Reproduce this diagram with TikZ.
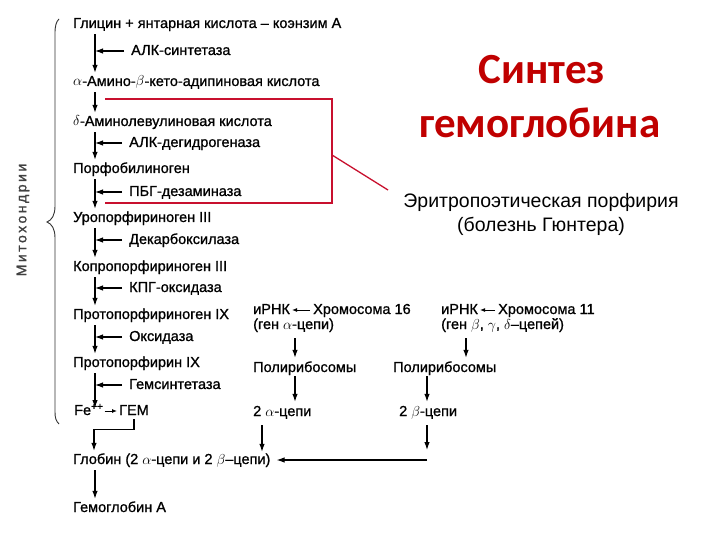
\documentclass[tikz,border=0pt]{standalone}
\usepackage{fontspec}
\setmainfont{Liberation Sans}
\newfontfamily\titlefont{Carlito}
\newfontfamily\medfont[FakeBold=1]{Liberation Sans}
\newfontfamily\spacedfont[LetterSpace=18,FakeBold=1.2]{Liberation Sans}
\usetikzlibrary{arrows.meta}
\definecolor{dred}{HTML}{C00000}
\definecolor{boxred}{HTML}{C8102E}
\begin{document}
\begin{tikzpicture}[x=1pt,y=-1pt,
  txt/.style={anchor=west,inner sep=0pt,font=\medfont\fontsize{14.5}{16}\selectfont,text height=10pt,text depth=2pt},
  arr/.style={-{Latex[length=8pt,width=5.5pt]},line width=1.1pt},
  arrs/.style={-{Latex[length=5pt,width=4pt]},line width=0.9pt},
  redline/.style={draw=boxred,line width=1.3pt},
  titletxt/.style={font=\titlefont\bfseries\fontsize{43}{50}\selectfont,text=dred,inner sep=0pt},
]
\useasboundingbox (0,0) rectangle (720,540);
\fill[white] (0,0) rectangle (720,540);

% left column
\node[txt] (r1) at (73,24) {Глицин + янтарная кислота – коэнзим А};
\node[txt] (r2) at (73,82) {$\alpha$-Амино-$\beta$-кето-адипиновая кислота};
\node[txt] (r3) at (73,122) {$\delta$-Аминолевулиновая кислота};
\node[txt] (r4) at (73,169) {Порфобилиноген};
\node[txt] (r5) at (73,218) {Уропорфириноген III};
\node[txt] (r6) at (73,267) {Копропорфириноген III};
\node[txt] (r7) at (73,315) {Протопорфириноген IX};
\node[txt] (r8) at (73,363) {Протопорфирин IX};
\node[txt] (fe) at (74,411) {Fe\textsuperscript{++}};
\node[txt] (gem) at (119,411) {ГЕМ};
\node[txt] (glob) at (73,460) {Глобин (2 $\alpha$-цепи и 2 $\beta$–цепи)};
\node[txt] (hb) at (73,508) {Гемоглобин А};

\node[txt] (e1) at (131,51) {АЛК-синтетаза};
\node[txt] (e2) at (129,143) {АЛК-дегидрогеназа};
\node[txt] (e3) at (129,192) {ПБГ-дезаминаза};
\node[txt] (e4) at (129,240) {Декарбоксилаза};
\node[txt] (e5) at (129,288) {КПГ-оксидаза};
\node[txt] (e6) at (129,337) {Оксидаза};
\node[txt] (e7) at (129,385) {Гемсинтетаза};

\coordinate (spine) at (95,0);
\foreach \a/\b in {r1/r2,r2/r3,r3/r4,r4/r5,r5/r6,r6/r7,r7/r8}
  \draw[arr] ([yshift=-4pt]spine |- \a.south) -- ([yshift=3pt]spine |- \b.north);
\draw[arr] ([yshift=-4pt]spine |- r8.south) -- ([yshift=3pt]spine |- fe.center);
\foreach \e in {e1,e2,e3,e4,e5,e6,e7}
  \draw[arr] ([xshift=-7pt]\e.west) -- (spine |- \e.west);
\draw[arrs] ([xshift=1pt]fe.east) -- ([xshift=-2pt]gem.west);
\draw[arr] ([yshift=-2pt]gem.south) -- ++(0,10) -| ([xshift=21pt,yshift=3pt]glob.north west);
\draw[arr] ([xshift=22pt,yshift=-4pt]glob.south west) -- ([xshift=22pt,yshift=3pt]hb.north west);

% alpha chain
\node[txt] (m1) at (253,310) {иРНК};
\node[txt] (c16) at (313,310) {Хромосома 16};
\node[txt] (g1) at (253,325) {(ген $\alpha$-цепи)};
\node[txt] (p1) at (253,368) {Полирибосомы};
\node[txt] (a2) at (253,412) {2 $\alpha$-цепи};
\draw[arrs] ([xshift=-3pt]c16.west) -- ([xshift=2pt]m1.east);
\coordinate (ca) at (295,0);
\coordinate (cb) at (262,0);
\draw[arr] ([yshift=-7pt]ca |- g1.south) -- ([yshift=4pt]ca |- p1.north);
\draw[arr] ([yshift=-2pt]ca |- p1.south) -- ([yshift=4pt]ca |- a2.north);
\draw[arr] ([yshift=-7pt]cb |- a2.south) -- ([yshift=2pt]cb |- glob.north);

% beta chain
\node[txt] (m2) at (441,310) {иРНК};
\node[txt] (c11) at (498,310) {Хромосома 11};
\node[txt] (g2) at (441,325) {(ген $\beta$, $\gamma$, $\delta$–цепей)};
\node[txt] (p2) at (393,368) {Полирибосомы};
\node[txt] (b2) at (399,412) {2 $\beta$-цепи};
\draw[arrs] ([xshift=-3pt]c11.west) -- ([xshift=2pt]m2.east);
\coordinate (cc) at (466,0);
\coordinate (bj) at (427,460);
\draw[arr] ([yshift=-7pt]cc |- g2.south) -- ([yshift=4pt]cc |- p2.north);
\draw[arr] ([yshift=-2pt]bj |- p2.south) -- ([yshift=4pt]bj |- b2.north);
\draw[arr] ([yshift=-7pt]bj |- b2.south) -- ([yshift=10pt]bj);
\draw[arr] (bj) -- ([xshift=6pt]glob.east);

% brace and label
\draw[line width=0.9pt,black!80] (59,19) .. controls (56,22) and (55,26) .. (55,34) -- (55,206)
  .. controls (55,215) and (52,220) .. (47,222) .. controls (52,224) and (55,229) .. (55,238)
  -- (55,412) .. controls (55,418) and (56,421) .. (59,424);
\node[rotate=90,inner sep=0pt,font=\spacedfont\fontsize{14}{16}\selectfont,text=black!75] (mito) at (23,220) {Митохондрии};

% red box
\draw[redline] (105,99) -- (332,99) -- (332,203) -- (105,203);
\coordinate (bx) at (332,155);
\coordinate (lx) at (388,190);
\draw[redline] (bx) -- (lx);

% title and note
\node[titletxt] (t1) at (542,70) {Синтез};
\node[titletxt] (t2) at (540,123) {гемоглобина};
\node[align=center,inner sep=0pt,font=\fontsize{19.5}{24}\selectfont] (desc) at (541,214) {Эритропоэтическая порфирия\\(болезнь Гюнтера)};
\end{tikzpicture}
\end{document}
